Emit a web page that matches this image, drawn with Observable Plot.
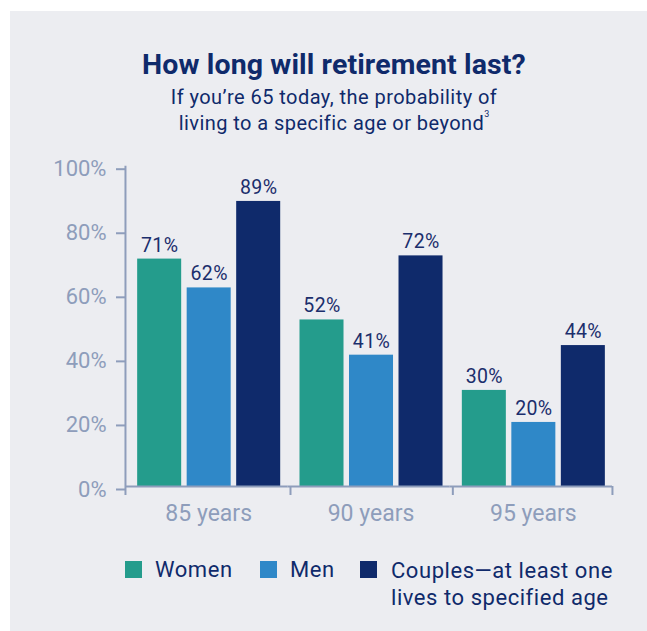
<!DOCTYPE html>
<html>
<head>
<meta charset="utf-8">
<script src="https://cdn.jsdelivr.net/npm/d3@7"></script>
<script src="https://cdn.jsdelivr.net/npm/@observablehq/plot@0.6"></script>
<style>
  body { margin: 0; width: 647px; height: 631px; position: relative; background: #ffffff; font-family: Roboto, "Noto Sans", sans-serif; overflow: hidden; }
  #panel { position: absolute; left: 10px; top: 11px; width: 637px; height: 620px; background: #ecedf1; }
  .t { position: absolute; left: 134px; width: 400px; text-align: center; color: #0f2a6b; white-space: nowrap; }
  #title { top: 47.7px; font-size: 28.5px; font-weight: 700; line-height: 34px; letter-spacing: 0.12px; }
  #subtitle { top: 85.3px; font-size: 20px; line-height: 25.7px; letter-spacing: 0.45px; }
  #subtitle sup { font-size: 9px; vertical-align: 13px; line-height: 0; letter-spacing: 0; }
  #chart { position: absolute; left: 0; top: 0; }
  .leg { position: absolute; font-size: 22px; line-height: 27px; color: #0f2a6b; white-space: nowrap; letter-spacing: 0.55px; }
  .sw { position: absolute; width: 17px; height: 17px; }
  .vlab text { letter-spacing: 0.4px; }
</style>
</head>
<body>
<div id="panel"></div>
<div class="t" id="title">How long will retirement last?</div>
<div class="t" id="subtitle">If you’re 65 today, the probability of<br>living to a specific age or beyond<sup>3</sup></div>
<div id="chart"></div>
<div id="legend"></div>
<script>
const groups = ["85 years", "90 years", "95 years"];
const seriesKeys = ["Women", "Men", "Couples"];
const seriesLabels = ["Women", "Men", "Couples—at least one<br>lives to specified age"];
const women = [71, 52, 30];
const men = [62, 41, 20];
const couples = [89, 72, 44];
const yTicks = [0, 20, 40, 60, 80, 100];
const colors = ["#249c8c", "#2f88c8", "#0f2a6b"];

const axisColor = "#8e9dbb";
const labelColor = "#1b2e6c";

const valuesBySeries = [women, men, couples];
const rows = [];
groups.forEach((g, i) => {
  seriesKeys.forEach((s, j) => rows.push({group: g, series: s, value: valuesBySeries[j][i]}));
});

const chart = Plot.plot({
  width: 647,
  height: 540,
  marginTop: 165.7,
  marginLeft: 125,
  marginRight: 35,
  marginBottom: 54,
  style: {background: "transparent", fontFamily: "Roboto, sans-serif", overflow: "visible"},
  fx: {domain: groups, padding: 0, round: false, label: null},
  x: {domain: seriesKeys, paddingInner: 0.111, paddingOuter: 0.195, align: 0.63, round: false, axis: null},
  y: {domain: [0, 100], axis: null},
  color: {domain: seriesKeys, range: colors},
  marks: [
    Plot.barY(rows, {fx: "group", x: "series", y: "value", fill: "series"}),
    Plot.text(rows, {fx: "group", x: "series", y: "value", text: d => d.value + "%", lineAnchor: "bottom", dy: -7.5, fill: labelColor, fontSize: 19.5, className: "vlab"}),
    // y axis line
    Plot.ruleX(["85 years"], {fx: d => d, x: () => "Women", dx: -34.2, y1: 0, y2: 100, stroke: axisColor, strokeWidth: 2}),
    // baseline
    Plot.ruleY([0], {stroke: axisColor, strokeWidth: 2}),
    // group boundary ticks
    Plot.ruleX(["90 years", "95 years"], {fx: d => d, x: () => "Women", dx: -31.5, y1: 0, y2: 0, insetBottom: -9, stroke: axisColor, strokeWidth: 2}),
    Plot.ruleX(["85 years"], {fx: d => d, x: () => "Women", dx: -34.2, y1: 0, y2: 0, insetBottom: -9, stroke: axisColor, strokeWidth: 2}),
    Plot.ruleX(["95 years"], {fx: d => d, x: () => "Couples", dx: 29.1, y1: 0, y2: 0, insetBottom: -9, stroke: axisColor, strokeWidth: 2}),
    Plot.axisY({ticks: yTicks, tickSize: 9, tickPadding: 10, tickFormat: d => d + "%", fontSize: 22, stroke: axisColor, fill: axisColor, strokeWidth: 2, dy: 3, label: null}),
    Plot.axisFx({anchor: "bottom", tickSize: 0, tickPadding: 18.4, fontSize: 23, fill: axisColor, label: null, dx: 2})
  ]
});
document.getElementById("chart").appendChild(chart);

// legend
const legendPos = [
  {sw: [125, 561], tx: [155, 556.3]},
  {sw: [260, 561], tx: [290, 556.3]},
  {sw: [360, 561], tx: [391, 557]}
];
const legend = document.getElementById("legend");
seriesKeys.forEach((s, i) => {
  const sw = document.createElement("div");
  sw.className = "sw";
  sw.style.left = legendPos[i].sw[0] + "px";
  sw.style.top = legendPos[i].sw[1] + "px";
  sw.style.background = colors[i];
  legend.appendChild(sw);
  const tx = document.createElement("div");
  tx.className = "leg";
  tx.style.left = legendPos[i].tx[0] + "px";
  tx.style.top = legendPos[i].tx[1] + "px";
  tx.innerHTML = seriesLabels[i];
  legend.appendChild(tx);
});
</script>
</body>
</html>
